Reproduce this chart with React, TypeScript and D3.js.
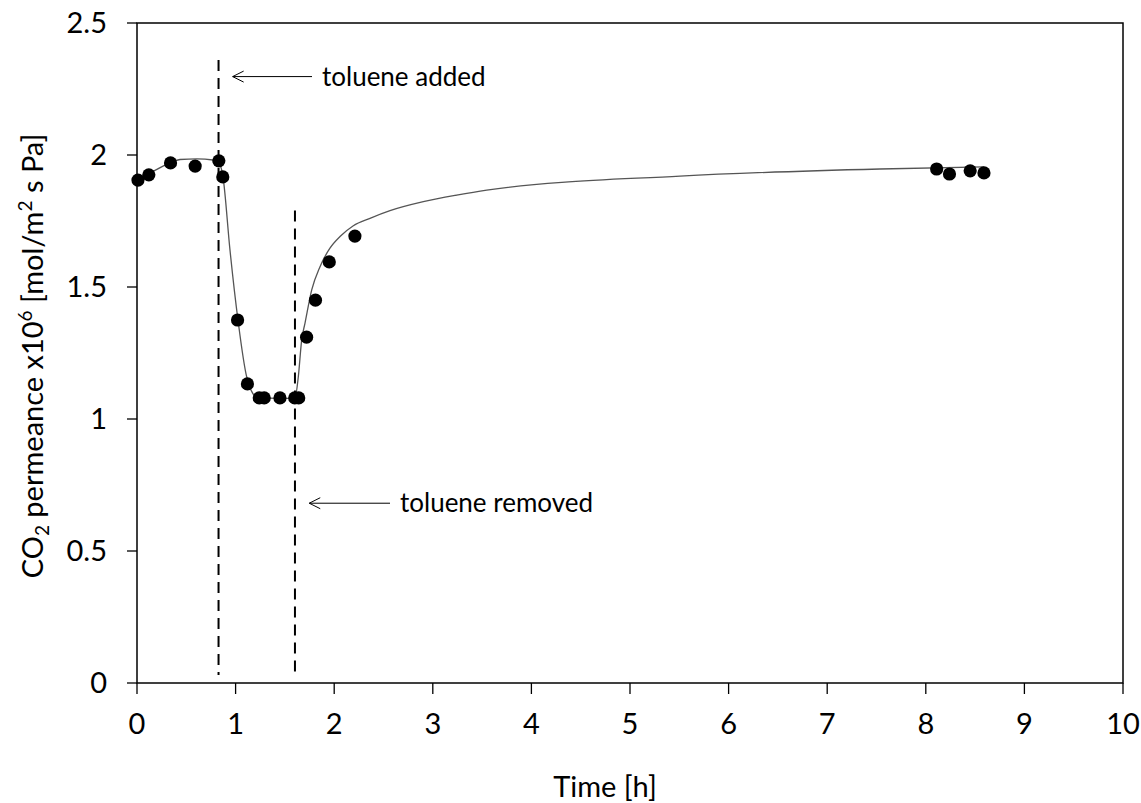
import React from "react";
import * as d3 from "d3";

// Measured CO2 permeance (x10^6 mol/m² s Pa) over time (h)
const timeH = [0.01, 0.12, 0.34, 0.59, 0.83, 0.87, 1.02, 1.12, 1.24, 1.29, 1.45, 1.6, 1.64, 1.72, 1.81, 1.95, 2.21, 8.11, 8.24, 8.45, 8.59];
const permeance = [1.905, 1.925, 1.97, 1.958, 1.978, 1.917, 1.375, 1.133, 1.08, 1.08, 1.08, 1.08, 1.08, 1.31, 1.45, 1.595, 1.693, 1.947, 1.928, 1.94, 1.932];

// Trend line drawn through the measurements
const fitTime = [0, 0.132, 0.335, 0.436, 0.609, 0.771, 0.822, 0.872, 0.943, 1.024, 1.113, 1.217, 1.45, 1.602, 1.636, 1.67, 1.704, 1.772, 1.856, 1.957, 2.059, 2.194, 2.363, 2.566, 2.904, 3.242, 3.547, 5.507, 7.535, 8.59];
const fitValue = [1.909, 1.932, 1.97, 1.983, 1.985, 1.981, 1.977, 1.917, 1.64, 1.375, 1.159, 1.083, 1.078, 1.08, 1.16, 1.299, 1.363, 1.489, 1.577, 1.647, 1.691, 1.732, 1.76, 1.789, 1.823, 1.848, 1.867, 1.92, 1.947, 1.955];

// Event markers: time, top and bottom of dashed line
const eventTime = [0.827, 1.602];
const eventTop = [2.36, 1.79];
const eventBottom = [0.03, 0.04];
const eventLabel = ["toluene added", "toluene removed"];
// Arrow annotations in data units: arrow tip x, arrow tail x, y
const arrowTip = [0.97, 1.747];
const arrowTail = [1.775, 2.566];
const arrowY = [2.297, 0.681];

const xTicks = d3.range(0, 11, 1);
const yTicks = [0, 0.5, 1, 1.5, 2, 2.5];

const FONT = "Lato, 'Open Sans', sans-serif";

export default function App() {
  const x = d3.scaleLinear().domain([0, 10]).range([137, 1123]);
  const y = d3.scaleLinear().domain([0, 2.5]).range([683, 23]);

  const fitLine = d3
    .line<number>()
    .x((_, i) => x(fitTime[i]))
    .y((d) => y(d))
    .curve(d3.curveMonotoneX);

  const [x0, x1] = x.range();
  const [yb, yt] = y.range();

  return (
    <svg
      width={1141}
      height={803}
      style={{ position: "absolute", left: 0, top: 0, background: "#fff" }}
      fontFamily={FONT}
    >
      <rect x={0} y={0} width={1141} height={803} fill="#fff" />

      {/* frame */}
      <rect x={x0} y={yt} width={x1 - x0} height={yb - yt} fill="none" stroke="#000" strokeWidth={1.5} />

      {/* y axis ticks and labels */}
      {yTicks.map((t) => (
        <g key={"y" + t}>
          <line x1={x0 - 10} x2={x0} y1={y(t)} y2={y(t)} stroke="#000" strokeWidth={1.3} />
          <text x={107} y={y(t)} dy="0.35em" textAnchor="end" fontSize={29} fill="#000">
            {d3.format("~g")(t)}
          </text>
        </g>
      ))}

      {/* x axis ticks and labels */}
      {xTicks.map((t) => (
        <g key={"x" + t}>
          <line x1={x(t)} x2={x(t)} y1={yb} y2={yb + 11} stroke="#000" strokeWidth={1.3} />
          <text x={x(t)} y={734} textAnchor="middle" fontSize={29} fill="#000">
            {t}
          </text>
        </g>
      ))}

      {/* axis titles */}
      <text x={605} y={797} textAnchor="middle" fontSize={29} fill="#000">
        Time [h]
      </text>
      <text
        transform={`translate(43, ${(yb + yt) / 2 + 3}) rotate(-90)`}
        textAnchor="middle"
        fontSize={29}
        fill="#000"
      >
        CO
        <tspan fontSize={19} dy={6}>2</tspan>
        <tspan dy={-6}> permeance x10</tspan>
        <tspan fontSize={19} dy={-11}>6</tspan>
        <tspan dy={11}> [mol/m</tspan>
        <tspan fontSize={19} dy={-11}>2</tspan>
        <tspan dy={11}> s Pa]</tspan>
      </text>

      {/* event dashed lines */}
      {eventTime.map((t, i) => (
        <line
          key={"ev" + i}
          x1={x(t)}
          x2={x(t)}
          y1={y(eventTop[i])}
          y2={y(eventBottom[i])}
          stroke="#000"
          strokeWidth={2}
          strokeDasharray="11,7"
        />
      ))}

      {/* arrows and labels */}
      {eventLabel.map((lab, i) => {
        const ax = x(arrowTip[i]);
        const bx = x(arrowTail[i]);
        const ay = y(arrowY[i]);
        return (
          <g key={"ar" + i}>
            <line x1={ax} x2={bx} y1={ay} y2={ay} stroke="#000" strokeWidth={1} />
            <path d={`M${ax + 11},${ay - 5.5} L${ax},${ay} L${ax + 11},${ay + 5.5}`} fill="none" stroke="#000" strokeWidth={1} />
            <text x={bx + 10} y={ay} dy="0.35em" fontSize={26} fill="#000">
              {lab}
            </text>
          </g>
        );
      })}

      {/* trend line */}
      <path d={fitLine(fitValue) || ""} fill="none" stroke="#555" strokeWidth={1.3} />

      {/* measurements */}
      {timeH.map((t, i) => (
        <circle key={"p" + i} cx={x(t)} cy={y(permeance[i])} r={6.6} fill="#000" />
      ))}
    </svg>
  );
}
